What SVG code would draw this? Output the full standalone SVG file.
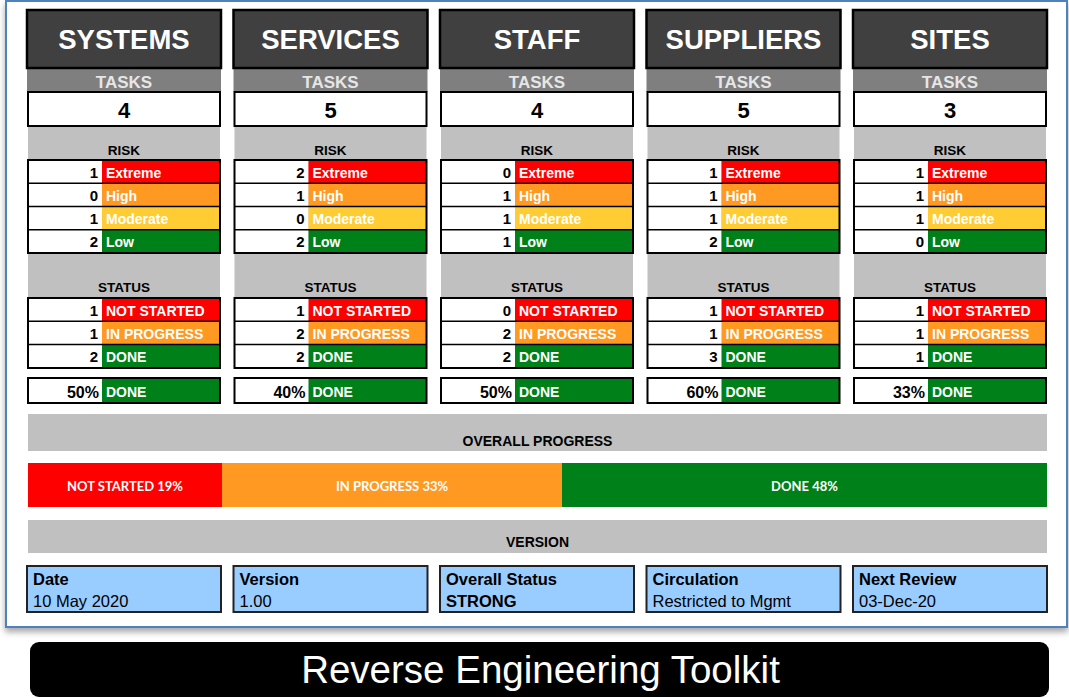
<svg xmlns="http://www.w3.org/2000/svg" width="1069" height="698" viewBox="0 0 1069 698">
<defs>
<filter id="sh" x="-5%" y="-5%" width="110%" height="115%">
<feDropShadow dx="0" dy="4" stdDeviation="3" flood-color="#000" flood-opacity="0.35"/>
</filter>
<style>
text{font-family:"Liberation Sans",Arial,sans-serif;}
.hdr{fill:#404040;stroke:#000;stroke-width:2.5;}
.ht{fill:#fff;font-size:27.5px;font-weight:bold;text-anchor:middle;}
.tb{fill:#7f7f7f;}
.tt{fill:#e6e6e6;font-size:17px;font-weight:bold;text-anchor:middle;}
.box{fill:#fff;stroke:#000;stroke-width:2;}
.tv{fill:#000;font-size:22px;font-weight:bold;text-anchor:middle;}
.lg{fill:#c0c0c0;}
.sec{fill:#000;font-size:13.5px;font-weight:bold;text-anchor:middle;}
.w{fill:#fff;}
.r{fill:#ff0000;}
.o{fill:#ff9922;}
.y{fill:#ffcc33;}
.g{fill:#008018;}
.sep{stroke:#000;stroke-width:1.5;}
.ob{fill:none;stroke:#000;stroke-width:2;}
.num{fill:#000;font-size:15px;font-weight:bold;text-anchor:end;}
.pct{fill:#000;font-size:16px;font-weight:bold;text-anchor:end;}
.lab{fill:#fff;font-size:14px;font-weight:bold;}
.band{fill:#c0c0c0;}
.bt{fill:#000;font-size:14px;font-weight:bold;text-anchor:middle;}
.pt{fill:#fff;font-family:Lato,"Open Sans",sans-serif;font-size:13px;font-weight:bold;text-anchor:middle;}
.info{fill:#99ccff;stroke:#222;stroke-width:2;}
.il{fill:#000;font-size:16.5px;font-weight:bold;}
.iv{fill:#000;font-size:16.5px;}
</style>
</defs>
<rect x="6" y="1" width="1061" height="626" fill="#fff" stroke="#4f81bd" stroke-width="2" filter="url(#sh)"/>

<g id="col-systems" transform="translate(27,0)">
<rect class="tb" x="0" y="68" width="194" height="24"/>
<rect class="hdr" x="0" y="10" width="194" height="58"/>
<text class="ht" x="97" y="48.5">SYSTEMS</text>
<text class="tt" x="97" y="87.5">TASKS</text>
<rect class="lg" x="1" y="126" width="192" height="172"/>
<rect class="box" x="1" y="92" width="192" height="34"/>
<text class="tv" x="97" y="118">4</text>
<text class="sec" x="97" y="154.5">RISK</text>
<rect class="w" x="1" y="160" width="74" height="93"/>
<rect class="r" x="75" y="160" width="118" height="23.3"/>
<rect class="o" x="75" y="183.3" width="118" height="23.3"/>
<rect class="y" x="75" y="206.6" width="118" height="23.2"/>
<rect class="g" x="75" y="229.8" width="118" height="23.2"/>
<line class="sep" x1="1" y1="183.3" x2="193" y2="183.3"/>
<line class="sep" x1="1" y1="206.6" x2="193" y2="206.6"/>
<line class="sep" x1="1" y1="229.8" x2="193" y2="229.8"/>
<rect class="ob" x="1" y="160" width="192" height="93"/>
<text class="num" x="71" y="177.5">1</text><text class="lab" x="79" y="177.5">Extreme</text>
<text class="num" x="71" y="200.8">0</text><text class="lab" x="79" y="200.8">High</text>
<text class="num" x="71" y="224">1</text><text class="lab" x="79" y="224">Moderate</text>
<text class="num" x="71" y="247.3">2</text><text class="lab" x="79" y="247.3">Low</text>
<text class="sec" x="97" y="292">STATUS</text>
<rect class="w" x="1" y="298" width="74" height="70"/>
<rect class="r" x="75" y="298" width="118" height="23.3"/>
<rect class="o" x="75" y="321.3" width="118" height="23.3"/>
<rect class="g" x="75" y="344.6" width="118" height="23.4"/>
<line class="sep" x1="1" y1="321.3" x2="193" y2="321.3"/>
<line class="sep" x1="1" y1="344.6" x2="193" y2="344.6"/>
<rect class="ob" x="1" y="298" width="192" height="70"/>
<text class="num" x="71" y="315.5">1</text><text class="lab" x="79" y="315.5">NOT STARTED</text>
<text class="num" x="71" y="338.8">1</text><text class="lab" x="79" y="338.8">IN PROGRESS</text>
<text class="num" x="71" y="362">2</text><text class="lab" x="79" y="362">DONE</text>
<rect class="w" x="1" y="378" width="74" height="25"/>
<rect class="g" x="75" y="378" width="118" height="25"/>
<rect class="ob" x="1" y="378" width="192" height="25"/>
<text class="pct" x="72" y="397.5">50%</text><text class="lab" x="79" y="397">DONE</text>
</g>

<g id="col-services" transform="translate(233.5,0)">
<rect class="tb" x="0" y="68" width="194" height="24"/>
<rect class="hdr" x="0" y="10" width="194" height="58"/>
<text class="ht" x="97" y="48.5">SERVICES</text>
<text class="tt" x="97" y="87.5">TASKS</text>
<rect class="lg" x="1" y="126" width="192" height="172"/>
<rect class="box" x="1" y="92" width="192" height="34"/>
<text class="tv" x="97" y="118">5</text>
<text class="sec" x="97" y="154.5">RISK</text>
<rect class="w" x="1" y="160" width="74" height="93"/>
<rect class="r" x="75" y="160" width="118" height="23.3"/>
<rect class="o" x="75" y="183.3" width="118" height="23.3"/>
<rect class="y" x="75" y="206.6" width="118" height="23.2"/>
<rect class="g" x="75" y="229.8" width="118" height="23.2"/>
<line class="sep" x1="1" y1="183.3" x2="193" y2="183.3"/>
<line class="sep" x1="1" y1="206.6" x2="193" y2="206.6"/>
<line class="sep" x1="1" y1="229.8" x2="193" y2="229.8"/>
<rect class="ob" x="1" y="160" width="192" height="93"/>
<text class="num" x="71" y="177.5">2</text><text class="lab" x="79" y="177.5">Extreme</text>
<text class="num" x="71" y="200.8">1</text><text class="lab" x="79" y="200.8">High</text>
<text class="num" x="71" y="224">0</text><text class="lab" x="79" y="224">Moderate</text>
<text class="num" x="71" y="247.3">2</text><text class="lab" x="79" y="247.3">Low</text>
<text class="sec" x="97" y="292">STATUS</text>
<rect class="w" x="1" y="298" width="74" height="70"/>
<rect class="r" x="75" y="298" width="118" height="23.3"/>
<rect class="o" x="75" y="321.3" width="118" height="23.3"/>
<rect class="g" x="75" y="344.6" width="118" height="23.4"/>
<line class="sep" x1="1" y1="321.3" x2="193" y2="321.3"/>
<line class="sep" x1="1" y1="344.6" x2="193" y2="344.6"/>
<rect class="ob" x="1" y="298" width="192" height="70"/>
<text class="num" x="71" y="315.5">1</text><text class="lab" x="79" y="315.5">NOT STARTED</text>
<text class="num" x="71" y="338.8">2</text><text class="lab" x="79" y="338.8">IN PROGRESS</text>
<text class="num" x="71" y="362">2</text><text class="lab" x="79" y="362">DONE</text>
<rect class="w" x="1" y="378" width="74" height="25"/>
<rect class="g" x="75" y="378" width="118" height="25"/>
<rect class="ob" x="1" y="378" width="192" height="25"/>
<text class="pct" x="72" y="397.5">40%</text><text class="lab" x="79" y="397">DONE</text>
</g>

<g id="col-staff" transform="translate(440,0)">
<rect class="tb" x="0" y="68" width="194" height="24"/>
<rect class="hdr" x="0" y="10" width="194" height="58"/>
<text class="ht" x="97" y="48.5">STAFF</text>
<text class="tt" x="97" y="87.5">TASKS</text>
<rect class="lg" x="1" y="126" width="192" height="172"/>
<rect class="box" x="1" y="92" width="192" height="34"/>
<text class="tv" x="97" y="118">4</text>
<text class="sec" x="97" y="154.5">RISK</text>
<rect class="w" x="1" y="160" width="74" height="93"/>
<rect class="r" x="75" y="160" width="118" height="23.3"/>
<rect class="o" x="75" y="183.3" width="118" height="23.3"/>
<rect class="y" x="75" y="206.6" width="118" height="23.2"/>
<rect class="g" x="75" y="229.8" width="118" height="23.2"/>
<line class="sep" x1="1" y1="183.3" x2="193" y2="183.3"/>
<line class="sep" x1="1" y1="206.6" x2="193" y2="206.6"/>
<line class="sep" x1="1" y1="229.8" x2="193" y2="229.8"/>
<rect class="ob" x="1" y="160" width="192" height="93"/>
<text class="num" x="71" y="177.5">0</text><text class="lab" x="79" y="177.5">Extreme</text>
<text class="num" x="71" y="200.8">1</text><text class="lab" x="79" y="200.8">High</text>
<text class="num" x="71" y="224">1</text><text class="lab" x="79" y="224">Moderate</text>
<text class="num" x="71" y="247.3">1</text><text class="lab" x="79" y="247.3">Low</text>
<text class="sec" x="97" y="292">STATUS</text>
<rect class="w" x="1" y="298" width="74" height="70"/>
<rect class="r" x="75" y="298" width="118" height="23.3"/>
<rect class="o" x="75" y="321.3" width="118" height="23.3"/>
<rect class="g" x="75" y="344.6" width="118" height="23.4"/>
<line class="sep" x1="1" y1="321.3" x2="193" y2="321.3"/>
<line class="sep" x1="1" y1="344.6" x2="193" y2="344.6"/>
<rect class="ob" x="1" y="298" width="192" height="70"/>
<text class="num" x="71" y="315.5">0</text><text class="lab" x="79" y="315.5">NOT STARTED</text>
<text class="num" x="71" y="338.8">2</text><text class="lab" x="79" y="338.8">IN PROGRESS</text>
<text class="num" x="71" y="362">2</text><text class="lab" x="79" y="362">DONE</text>
<rect class="w" x="1" y="378" width="74" height="25"/>
<rect class="g" x="75" y="378" width="118" height="25"/>
<rect class="ob" x="1" y="378" width="192" height="25"/>
<text class="pct" x="72" y="397.5">50%</text><text class="lab" x="79" y="397">DONE</text>
</g>

<g id="col-suppliers" transform="translate(646.5,0)">
<rect class="tb" x="0" y="68" width="194" height="24"/>
<rect class="hdr" x="0" y="10" width="194" height="58"/>
<text class="ht" x="97" y="48.5">SUPPLIERS</text>
<text class="tt" x="97" y="87.5">TASKS</text>
<rect class="lg" x="1" y="126" width="192" height="172"/>
<rect class="box" x="1" y="92" width="192" height="34"/>
<text class="tv" x="97" y="118">5</text>
<text class="sec" x="97" y="154.5">RISK</text>
<rect class="w" x="1" y="160" width="74" height="93"/>
<rect class="r" x="75" y="160" width="118" height="23.3"/>
<rect class="o" x="75" y="183.3" width="118" height="23.3"/>
<rect class="y" x="75" y="206.6" width="118" height="23.2"/>
<rect class="g" x="75" y="229.8" width="118" height="23.2"/>
<line class="sep" x1="1" y1="183.3" x2="193" y2="183.3"/>
<line class="sep" x1="1" y1="206.6" x2="193" y2="206.6"/>
<line class="sep" x1="1" y1="229.8" x2="193" y2="229.8"/>
<rect class="ob" x="1" y="160" width="192" height="93"/>
<text class="num" x="71" y="177.5">1</text><text class="lab" x="79" y="177.5">Extreme</text>
<text class="num" x="71" y="200.8">1</text><text class="lab" x="79" y="200.8">High</text>
<text class="num" x="71" y="224">1</text><text class="lab" x="79" y="224">Moderate</text>
<text class="num" x="71" y="247.3">2</text><text class="lab" x="79" y="247.3">Low</text>
<text class="sec" x="97" y="292">STATUS</text>
<rect class="w" x="1" y="298" width="74" height="70"/>
<rect class="r" x="75" y="298" width="118" height="23.3"/>
<rect class="o" x="75" y="321.3" width="118" height="23.3"/>
<rect class="g" x="75" y="344.6" width="118" height="23.4"/>
<line class="sep" x1="1" y1="321.3" x2="193" y2="321.3"/>
<line class="sep" x1="1" y1="344.6" x2="193" y2="344.6"/>
<rect class="ob" x="1" y="298" width="192" height="70"/>
<text class="num" x="71" y="315.5">1</text><text class="lab" x="79" y="315.5">NOT STARTED</text>
<text class="num" x="71" y="338.8">1</text><text class="lab" x="79" y="338.8">IN PROGRESS</text>
<text class="num" x="71" y="362">3</text><text class="lab" x="79" y="362">DONE</text>
<rect class="w" x="1" y="378" width="74" height="25"/>
<rect class="g" x="75" y="378" width="118" height="25"/>
<rect class="ob" x="1" y="378" width="192" height="25"/>
<text class="pct" x="72" y="397.5">60%</text><text class="lab" x="79" y="397">DONE</text>
</g>

<g id="col-sites" transform="translate(853,0)">
<rect class="tb" x="0" y="68" width="194" height="24"/>
<rect class="hdr" x="0" y="10" width="194" height="58"/>
<text class="ht" x="97" y="48.5">SITES</text>
<text class="tt" x="97" y="87.5">TASKS</text>
<rect class="lg" x="1" y="126" width="192" height="172"/>
<rect class="box" x="1" y="92" width="192" height="34"/>
<text class="tv" x="97" y="118">3</text>
<text class="sec" x="97" y="154.5">RISK</text>
<rect class="w" x="1" y="160" width="74" height="93"/>
<rect class="r" x="75" y="160" width="118" height="23.3"/>
<rect class="o" x="75" y="183.3" width="118" height="23.3"/>
<rect class="y" x="75" y="206.6" width="118" height="23.2"/>
<rect class="g" x="75" y="229.8" width="118" height="23.2"/>
<line class="sep" x1="1" y1="183.3" x2="193" y2="183.3"/>
<line class="sep" x1="1" y1="206.6" x2="193" y2="206.6"/>
<line class="sep" x1="1" y1="229.8" x2="193" y2="229.8"/>
<rect class="ob" x="1" y="160" width="192" height="93"/>
<text class="num" x="71" y="177.5">1</text><text class="lab" x="79" y="177.5">Extreme</text>
<text class="num" x="71" y="200.8">1</text><text class="lab" x="79" y="200.8">High</text>
<text class="num" x="71" y="224">1</text><text class="lab" x="79" y="224">Moderate</text>
<text class="num" x="71" y="247.3">0</text><text class="lab" x="79" y="247.3">Low</text>
<text class="sec" x="97" y="292">STATUS</text>
<rect class="w" x="1" y="298" width="74" height="70"/>
<rect class="r" x="75" y="298" width="118" height="23.3"/>
<rect class="o" x="75" y="321.3" width="118" height="23.3"/>
<rect class="g" x="75" y="344.6" width="118" height="23.4"/>
<line class="sep" x1="1" y1="321.3" x2="193" y2="321.3"/>
<line class="sep" x1="1" y1="344.6" x2="193" y2="344.6"/>
<rect class="ob" x="1" y="298" width="192" height="70"/>
<text class="num" x="71" y="315.5">1</text><text class="lab" x="79" y="315.5">NOT STARTED</text>
<text class="num" x="71" y="338.8">1</text><text class="lab" x="79" y="338.8">IN PROGRESS</text>
<text class="num" x="71" y="362">1</text><text class="lab" x="79" y="362">DONE</text>
<rect class="w" x="1" y="378" width="74" height="25"/>
<rect class="g" x="75" y="378" width="118" height="25"/>
<rect class="ob" x="1" y="378" width="192" height="25"/>
<text class="pct" x="72" y="397.5">33%</text><text class="lab" x="79" y="397">DONE</text>
</g>

<g id="overall-progress">
<rect class="band" x="28" y="414" width="1019" height="37"/>
<text class="bt" x="537.5" y="446">OVERALL PROGRESS</text>
<rect class="r" x="28" y="463" width="194" height="44"/>
<rect class="o" x="222" y="463" width="340" height="44"/>
<rect class="g" x="562" y="463" width="485" height="44"/>
<text class="pt" x="125" y="491">NOT STARTED 19%</text>
<text class="pt" x="392" y="491">IN PROGRESS 33%</text>
<text class="pt" x="804.5" y="491">DONE 48%</text>
</g>

<g id="version">
<rect class="band" x="28" y="520" width="1019" height="33"/>
<text class="bt" x="537.5" y="547">VERSION</text>
</g>

<g id="info-date">
<rect class="info" x="27" y="566" width="194" height="46"/>
<text class="il" x="33" y="585">Date</text>
<text class="iv" x="33" y="606.5">10 May 2020</text>
</g>
<g id="info-version">
<rect class="info" x="233.5" y="566" width="194" height="46"/>
<text class="il" x="239.5" y="585">Version</text>
<text class="iv" x="239.5" y="606.5">1.00</text>
</g>
<g id="info-status">
<rect class="info" x="440" y="566" width="194" height="46"/>
<text class="il" x="446" y="585">Overall Status</text>
<text class="il" x="446" y="606.5">STRONG</text>
</g>
<g id="info-circulation">
<rect class="info" x="646.5" y="566" width="194" height="46"/>
<text class="il" x="652.5" y="585">Circulation</text>
<text class="iv" x="652.5" y="606.5">Restricted to Mgmt</text>
</g>
<g id="info-review">
<rect class="info" x="853" y="566" width="194" height="46"/>
<text class="il" x="859" y="585">Next Review</text>
<text class="iv" x="859" y="606.5">03-Dec-20</text>
</g>

<g id="footer">
<rect x="30" y="642" width="1019" height="55" rx="9" fill="#000"/>
<text x="540.5" y="683" fill="#fff" font-family="Lato,'Open Sans',sans-serif" font-size="38.5" text-anchor="middle">Reverse Engineering Toolkit</text>
</g>
</svg>
